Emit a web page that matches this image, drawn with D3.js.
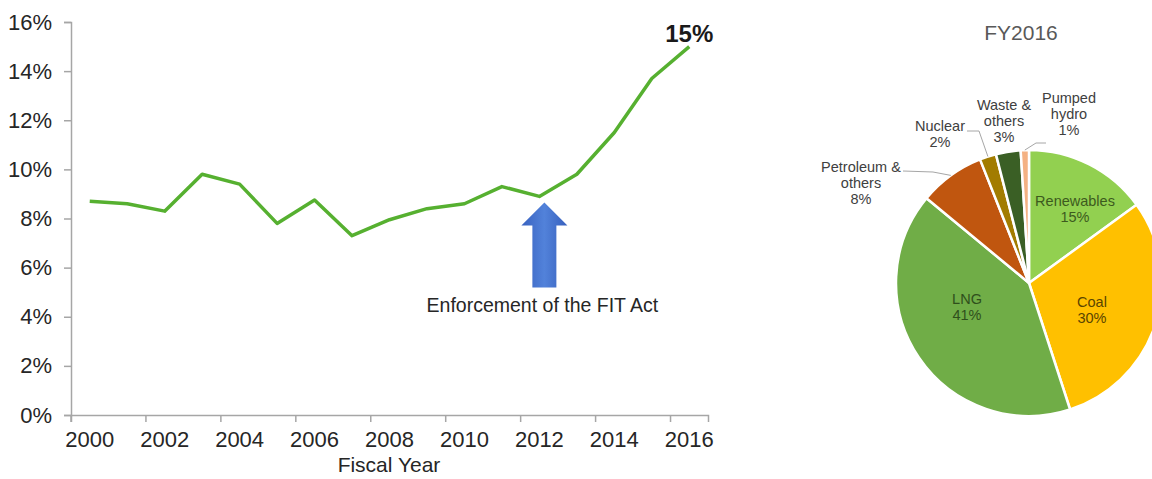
<!DOCTYPE html>
<html>
<head>
<meta charset="utf-8">
<script src="https://cdn.jsdelivr.net/npm/d3@7"></script>
<style>
  body { margin: 0; background: #fff; }
  svg { display: block; font-family: "Liberation Sans", Arial, sans-serif; }
</style>
</head>
<body>
<div id="chart-area"></div>
<script>
// renewables share, line chart
var years = [2000, 2001, 2002, 2003, 2004, 2005, 2006, 2007, 2008,
             2009, 2010, 2011, 2012, 2013, 2014, 2015, 2016];
var shares = [8.7, 8.6, 8.3, 9.8, 9.4, 7.8, 8.75, 7.3, 7.95,
              8.4, 8.6, 9.3, 8.9, 9.8, 11.5, 13.7, 15.0];
var yTicks = [0, 2, 4, 6, 8, 10, 12, 14, 16];
var xTickYears = [2000, 2002, 2004, 2006, 2008, 2010, 2012, 2014, 2016];

// FY2016 power mix, pie
var mixNames = ["Renewables", "Coal", "LNG", "Petroleum & others", "Nuclear", "Waste & others", "Pumped hydro"];
var mixValues = [15, 30, 41, 8, 2, 3, 1];
var mixColors = ["#92d050", "#ffc000", "#70ad47", "#c0560f", "#a27c00", "#3a5f25", "#f4b183"];

var W = 1152, H = 479;

var svg = d3.select("#chart-area")
  .append("svg")
    .attr("width", W)
    .attr("height", H);

var defs = svg.append("defs");
var grad = defs.append("linearGradient")
  .attr("id", "arrowGrad")
  .attr("x1", "0%").attr("x2", "100%")
  .attr("y1", "0%").attr("y2", "0%");
grad.append("stop").attr("offset", "0%").attr("stop-color", "#3862c0");
grad.append("stop").attr("offset", "50%").attr("stop-color", "#5282da");
grad.append("stop").attr("offset", "100%").attr("stop-color", "#3760bd");

// ---- line chart ----
var x = d3.scaleBand()
  .domain(years)
  .range([71, 708])
  .padding(0);

var y = d3.scaleLinear()
  .domain([0, 16])
  .range([415, 22]);

var xAxisCall = d3.axisBottom(x)
  .tickValues(xTickYears)
  .tickSize(7)
  .tickPadding(9);

var xg = svg.append("g")
  .attr("class", "x axis")
  .attr("transform", "translate(0,415)")
  .call(xAxisCall);

// ticks sit on band edges, labels on band centres
xg.selectAll(".tick line")
  .attr("x1", -x.bandwidth() / 2)
  .attr("x2", -x.bandwidth() / 2);

var yAxisCall = d3.axisLeft(y)
  .tickValues(yTicks)
  .tickSize(7)
  .tickPadding(12)
  .tickFormat(function(d) { return d + "%"; });

var yg = svg.append("g")
  .attr("class", "y axis")
  .attr("transform", "translate(71,0)")
  .call(yAxisCall);

svg.selectAll(".axis path, .axis line")
  .attr("stroke", "#a6a6a6")
  .attr("stroke-width", 1.5);
svg.selectAll(".axis text")
  .attr("font-size", "22px")
  .attr("font-family", "Liberation Sans, Arial, sans-serif")
  .attr("fill", "#262626");

// X label
svg.append("text")
  .attr("x", 389)
  .attr("y", 472)
  .attr("text-anchor", "middle")
  .attr("font-size", "21px")
  .attr("fill", "#262626")
  .text("Fiscal Year");

var line = d3.line()
  .x(function(d, i) { return x(years[i]) + x.bandwidth() / 2; })
  .y(function(d) { return y(d); });

svg.append("path")
  .datum(shares)
  .attr("d", line)
  .attr("fill", "none")
  .attr("stroke", "#56b030")
  .attr("stroke-width", 3.5)
  .attr("stroke-linejoin", "round");

// last value callout
var last = shares.length - 1;
svg.append("text")
  .attr("x", x(years[last]) + x.bandwidth() / 2)
  .attr("y", y(shares[last]) - 5)
  .attr("text-anchor", "middle")
  .attr("font-size", "24px")
  .attr("font-weight", "bold")
  .attr("fill", "#1a1a1a")
  .text(shares[last] + "%");

// FIT act arrow under 2012
var ax = x(2012) + x.bandwidth() / 2 + 5;
var atop = y(shares[years.indexOf(2012)]) + 6;
svg.append("path")
  .attr("d", "M" + ax + "," + atop +
    " L" + (ax + 23) + "," + (atop + 23) +
    " L" + (ax + 12) + "," + (atop + 23) +
    " L" + (ax + 12) + "," + (atop + 85) +
    " L" + (ax - 12) + "," + (atop + 85) +
    " L" + (ax - 12) + "," + (atop + 23) +
    " L" + (ax - 23) + "," + (atop + 23) + " Z")
  .attr("fill", "url(#arrowGrad)");

svg.append("text")
  .attr("x", ax - 2)
  .attr("y", 312)
  .attr("text-anchor", "middle")
  .attr("font-size", "19.5px")
  .attr("fill", "#262626")
  .text("Enforcement of the FIT Act");

// ---- pie ----
var cx = 1029, cy = 283, R = 133;

svg.append("text")
  .attr("x", 1021)
  .attr("y", 40)
  .attr("text-anchor", "middle")
  .attr("font-size", "21px")
  .attr("fill", "#595959")
  .text("FY2016");

var pie = d3.pie().sort(null).value(function(d) { return d; });
var arcs = pie(mixValues);
var arc = d3.arc().innerRadius(0).outerRadius(R);
var edgeArc = d3.arc().innerRadius(R).outerRadius(R);

var pg = svg.append("g").attr("transform", "translate(" + cx + "," + cy + ")");

pg.selectAll("path.slice")
  .data(arcs).enter()
  .append("path")
    .attr("class", "slice")
    .attr("d", arc)
    .attr("fill", function(d, i) { return mixColors[i]; })
    .attr("stroke", "#fff")
    .attr("stroke-width", 2.5)
    .attr("stroke-linejoin", "round");

// label layout: offsets from the pie centre, leader start (null = inside label)
var labelLayout = [
  { lines: ["Renewables", "15%"], dx: 46, dy: -77, lead: null, color: "#3d5a1e" },
  { lines: ["Coal", "30%"], dx: 63, dy: 24, lead: null, color: "#5a4500" },
  { lines: ["LNG", "41%"], dx: -62, dy: 21, lead: null, color: "#2f4f1c" },
  { lines: ["Petroleum &", "others", "8%"], dx: -168, dy: -111, lead: [-126, -112], color: "#404040" },
  { lines: ["Nuclear", "2%"], dx: -89, dy: -152, lead: [-62, -152], color: "#404040" },
  { lines: ["Waste &", "others", "3%"], dx: -25, dy: -173, lead: null, color: "#404040" },
  { lines: ["Pumped", "hydro", "1%"], dx: 40, dy: -180, lead: [17, -140], color: "#404040" }
];

labelLayout.forEach(function(L, i) {
  if (L.lead) {
    var end = edgeArc.centroid(arcs[i]);
    var pts = [L.lead];
    if (i === 4) pts.push([L.lead[0] + 12, L.lead[1]]);
    if (i === 3) pts.push([L.lead[0] + 30, L.lead[1] + 1]);
    if (i === 6) pts.push([L.lead[0] - 10, L.lead[1]]);
    pts.push(end);
    pg.append("path")
      .attr("d", d3.line()(pts))
      .attr("fill", "none")
      .attr("stroke", "#a6a6a6")
      .attr("stroke-width", 1);
  }
  var t = pg.append("text")
    .attr("text-anchor", "middle")
    .attr("font-size", "14.5px")
    .attr("fill", L.color);
  L.lines.forEach(function(s, k) {
    t.append("tspan")
      .attr("x", L.dx)
      .attr("y", L.dy + k * 16)
      .text(s);
  });
});
</script>
</body>
</html>
